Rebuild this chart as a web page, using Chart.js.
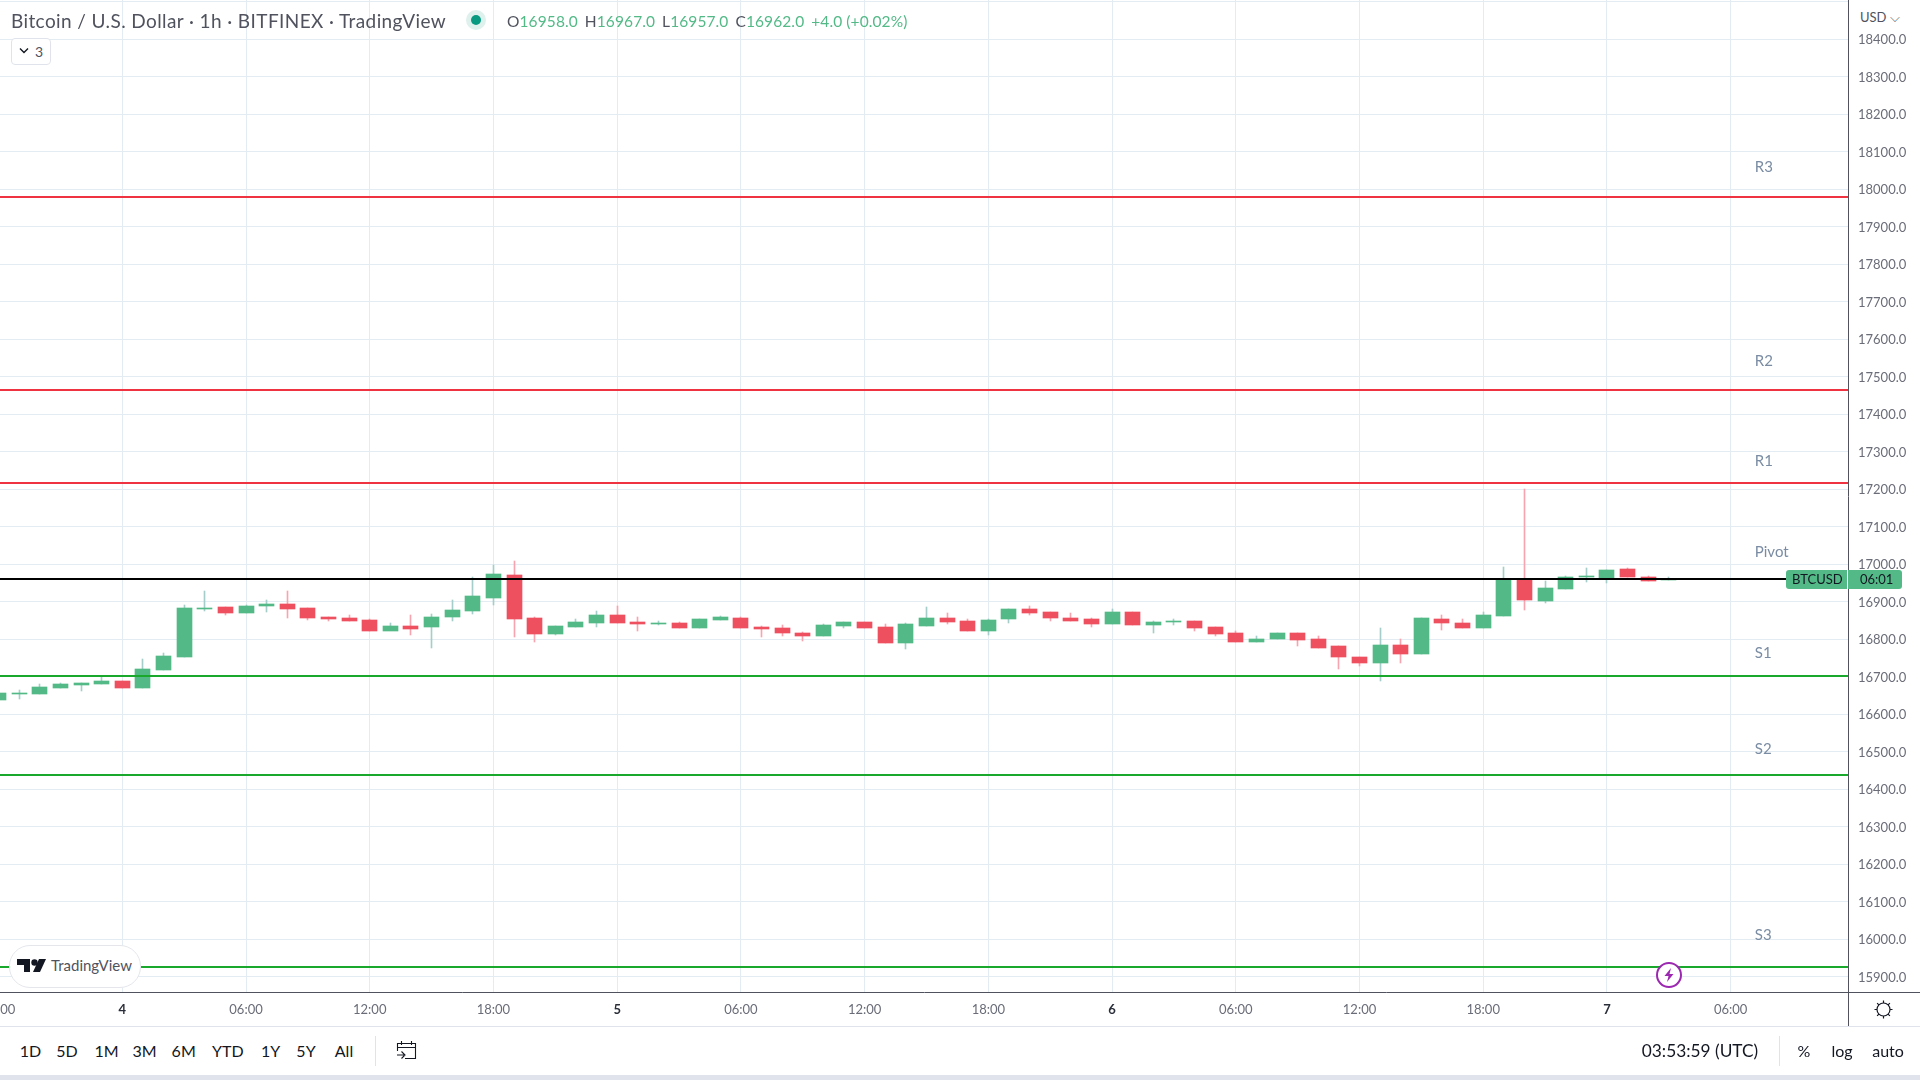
<!DOCTYPE html>
<html>
<head>
<meta charset="utf-8">
<title>Bitcoin / U.S. Dollar</title>
<script src="https://cdn.jsdelivr.net/npm/chart.js@4"></script>
<style>
html, body { margin: 0; padding: 0; width: 1920px; height: 1080px; overflow: hidden; background: #fff; font-family: Lato, "Open Sans", sans-serif; }
#chart { position: absolute; left: 0; top: 0; }
.abs { position: absolute; white-space: nowrap; }
#title { left: 11px; top: 9px; font-size: 19px; letter-spacing: 0.4px; line-height: 24px; color: #50535e; }
#ohlc { left: 507px; top: 10px; font-size: 15.5px; letter-spacing: 0.1px; line-height: 22px; color: #50535e; }
#ohlc b { font-weight: 400; color: #53b987; margin-right: 7px; }
#collapse { left: 11px; top: 38px; width: 38px; height: 25px; border: 1px solid #e0e3eb; border-radius: 4px; background: #fff; font-size: 14px; line-height: 25px; color: #50535e; text-indent: 23px; }
#usd { left: 1860px; top: 8px; font-size: 13px; line-height: 18px; color: #50535e; background: #fff; padding-right: 4px; }
#brand { left: 9px; top: 945px; width: 130px; height: 41px; border-radius: 21px; background: #fff; border: 1px solid #e4e6eb; }
#brand span { position: absolute; left: 41px; top: 9px; font-size: 15px; line-height: 20px; color: #50535e; }
.tb { top: 1039px; font-size: 16px; line-height: 24px; color: #131722; transform: translateX(-50%); }
.rule { position: absolute; background: #50535e; }
</style>
</head>
<body>
<canvas id="chart" width="1920" height="1026"></canvas>

<div class="abs" id="title">Bitcoin / U.S. Dollar · 1h · BITFINEX · TradingView</div>
<svg class="abs" style="left:466px;top:10px" width="20" height="20"><circle cx="10" cy="10" r="10" fill="#dff1ed"/><circle cx="10" cy="10" r="5" fill="#089981"/></svg>
<div class="abs" id="ohlc">O<b>16958.0</b>H<b>16967.0</b>L<b>16957.0</b>C<b>16962.0</b><b>+4.0 (+0.02%)</b></div>
<div class="abs" id="collapse">3</div>
<svg class="abs" style="left:19px;top:47px" width="10" height="8"><path d="M1 1.5 L5 5.5 L9 1.5" fill="none" stroke="#131722" stroke-width="1.4"/></svg>
<div class="abs" id="usd">USD ⌵</div>

<div class="abs" id="brand">
  <svg style="position:absolute;left:7px;top:12px" width="30" height="16" viewBox="0 0 30 16"><path d="M0 1h13v13H7V7H0z" fill="#131722"/><circle cx="17.5" cy="4.5" r="3.2" fill="#131722"/><path d="M22 1h7l-6 13h-7z" fill="#131722"/></svg>
  <span>TradingView</span>
</div>
<svg class="abs" style="left:1656px;top:962px" width="26" height="26"><circle cx="13" cy="13" r="12" fill="#fff" stroke="#9c27b0" stroke-width="2"/><path d="M15 6 L8.5 14 H12.5 L11 20 L17.5 12 H13.5 Z" fill="#9c27b0"/></svg>

<div class="rule" style="left:1848px;top:992px;width:72px;height:1px"></div>
<div class="rule" style="left:1848px;top:992px;width:1px;height:34px"></div>
<svg class="abs" style="left:1873px;top:999px" width="21" height="21" viewBox="0 0 21 21"><circle cx="10.5" cy="10.5" r="6.500" fill="none" stroke="#131722" stroke-width="1.2"/><path d="M10.5 1.5v2.5M10.5 17v2.5M1.5 10.5h2.5M17 10.5h2.5M4.1 4.1l1.8 1.8M15.1 15.1l1.8 1.8M4.1 16.9l1.8-1.8M15.1 5.9l1.8-1.8" stroke="#131722" stroke-width="1.2"/></svg>

<div style="position:absolute;left:0;top:1026px;width:1920px;height:1px;background:#e0e3eb"></div>
<div style="position:absolute;left:0;top:1075px;width:1920px;height:5px;background:#e0e3eb"></div>
<div style="position:absolute;left:375px;top:1036px;width:1px;height:30px;background:#e0e3eb"></div>
<div style="position:absolute;left:1779px;top:1036px;width:1px;height:30px;background:#e0e3eb"></div>
<div id="ranges"></div>
<svg class="abs" style="left:396px;top:1040px" width="21" height="21" viewBox="0 0 21 21"><path d="M1.5 7.5h18M5.500 1v4M15.500 1v4M1.5 11V3.500h18v15H9M1 15h7M5.500 11.500L9 15l-3.500 3.500" fill="none" stroke="#131722" stroke-width="1.1"/></svg>
<div class="abs tb" style="left:1700px;font-size:17.3px">03:53:59 (UTC)</div>
<div class="abs tb" style="left:1804px">%</div>
<div class="abs tb" style="left:1842px">log</div>
<div class="abs tb" style="left:1888px">auto</div>

<script>
// hours counted from 00:00 on the 4th
const hours = [-6,-5,-4,-3,-2,-1,0,1,2,3,4,5,6,7,8,9,10,11,12,13,14,15,16,17,18,19,20,21,22,23,24,25,26,27,28,29,30,31,32,33,34,35,36,37,38,39,40,41,42,43,44,45,46,47,48,49,50,51,52,53,54,55,56,57,58,59,60,61,62,63,64,65,66,67,68,69,70,71,72,73,74,75];
const opens = [16638,16654,16654,16670,16678,16681,16689,16670,16718,16753,16881,16886,16870,16889,16894,16884,16860,16857,16852,16822,16836,16833,16860,16876,16910,16972,16857,16814,16833,16844,16865,16846,16841,16844,16830,16852,16857,16833,16830,16817,16809,16836,16846,16833,16790,16836,16857,16849,16822,16853,16882,16872,16858,16853,16840,16872,16837,16845,16848,16834,16816,16794,16800,16818,16800,16781,16754,16738,16786,16760,16855,16844,16830,16862,16961,16902,16934,16966,16964,16988,16966,16958];
const closes = [16657,16657,16673,16681,16684,16689,16670,16721,16756,16884,16884,16870,16889,16894,16881,16857,16854,16849,16822,16836,16828,16860,16878,16916,16974,16854,16814,16836,16846,16865,16844,16841,16844,16830,16854,16860,16830,16828,16817,16809,16838,16846,16830,16790,16841,16857,16846,16822,16852,16880,16869,16856,16848,16840,16872,16837,16845,16848,16829,16813,16794,16802,16816,16797,16778,16752,16738,16784,16760,16856,16844,16830,16865,16961,16905,16937,16966,16969,16985,16966,16956,16962];
const highs = [16657,16665,16681,16684,16684,16700,16689,16748,16764,16892,16929,16886,16892,16905,16929,16884,16860,16865,16854,16844,16865,16868,16905,16966,16998,17009,16860,16836,16854,16876,16889,16860,16849,16846,16854,16862,16860,16836,16838,16820,16841,16846,16846,16841,16844,16886,16870,16854,16854,16882,16888,16872,16869,16856,16880,16874,16848,16853,16848,16834,16821,16810,16818,16818,16810,16781,16754,16829,16800,16856,16864,16853,16873,16993,17201,16956,16969,16990,16985,16990,16969,16967];
const lows = [16638,16641,16654,16670,16662,16681,16670,16670,16718,16753,16876,16865,16870,16873,16857,16852,16849,16849,16822,16836,16812,16777,16849,16868,16892,16806,16793,16812,16833,16833,16844,16822,16838,16830,16830,16852,16830,16806,16809,16796,16809,16830,16830,16790,16774,16836,16841,16822,16812,16844,16866,16850,16848,16834,16840,16837,16818,16837,16821,16808,16794,16794,16800,16781,16778,16722,16730,16688,16736,16760,16826,16830,16830,16862,16878,16897,16934,16953,16950,16966,16956,16957];

const pivotLevels = [17979.5,17464.8,17216.8,16960.8,16702.1,16438.1,15926.1];
const pivotColors = ["#ef3340","#ef3340","#ef3340","#000000","#1aa82c","#1aa82c","#1aa82c"];
const pivotNames = ["R3","R2","R1","Pivot","S1","S2","S3"];
const pivotNamePrices = [18058,17542,17275,17032,16762,16507,16011];
const pivotNameHour = 79.17;

const xTickHours = [-6,0,6,12,18,24,30,36,42,48,54,60,66,72,78];
const xTickLabels = ["18:00","4","06:00","12:00","18:00","5","06:00","12:00","18:00","6","06:00","12:00","18:00","7","06:00"];
const dayTicks = [0,24,48,72];
const xMin = -5.93, xMax = 83.69;
const yMin = 15859.5, yMax = 18504.8;

const rangeNames = ["1D","5D","1M","3M","6M","YTD","1Y","5Y","All"];
const rangeCentres = [30.5,67,106.5,144.5,183.7,227.8,270.6,306,344];

const UP = "#53b987", DOWN = "#ef5060", UP_WICK = "#a5cdc9", DOWN_WICK = "#f8a3b0";
const FONT = "Lato, 'Open Sans', sans-serif";

document.getElementById("ranges").innerHTML = rangeNames.map((n, i) =>
  `<div class="abs tb" style="left:${rangeCentres[i]}px">${n}</div>`).join("");

const isUp = closes.map((c, i) => c >= opens[i]);

function noPadding(scale){
  scale.paddingLeft = scale.paddingRight = scale.paddingTop = scale.paddingBottom = 0;
}

function isDayTick(c){
  return dayTicks.includes(c.tick?.value);
}

const snapBars = {
  id: "snapBars",
  afterDatasetsUpdate(chart){
    chart.data.datasets.forEach((ds, i) => {
      if (ds.type !== "bar") return;
      chart.getDatasetMeta(i).data.forEach((el) => {
        el.x = Math.round(el.x - 0.5) + 0.5;
        el.y = Math.round(el.y);
        el.base = Math.round(el.base);
        if (el.base === el.y) el.base = el.y + 1;
      });
    });
  },
};

const overlays = {
  id: "overlays",
  afterDraw(chart){
    const { ctx, scales: { x, y } } = chart;
    ctx.save();
    // names of the pivot levels
    ctx.font = `15px ${FONT}`;
    ctx.fillStyle = "#7a8ca3";
    ctx.textBaseline = "middle";
    ctx.textAlign = "left";
    pivotNames.forEach((n, i) => ctx.fillText(n, x.getPixelForValue(pivotNameHour), y.getPixelForValue(pivotNamePrices[i])));
    // last price tag
    const tagY = Math.round(y.getPixelForValue(closes[closes.length - 1]));
    ctx.fillStyle = UP;
    ctx.beginPath();
    ctx.roundRect(1786, tagY - 9, 116, 19, 3);
    ctx.fill();
    ctx.fillStyle = "#fff";
    ctx.fillRect(1847, tagY - 9, 1, 19);
    ctx.fillStyle = "#131722";
    ctx.font = `13px ${FONT}`;
    ctx.fillText("BTCUSD", 1792, tagY + 1);
    ctx.fillText("06:01", 1860, tagY + 1);
    ctx.restore();
  },
};

new Chart(document.getElementById("chart"), {
  data: {
    labels: hours,
    datasets: [
      ...pivotLevels.map((v, i) => ({
        type: "line",
        data: [{ x: xMin, y: v }, { x: xMax, y: v }],
        borderColor: pivotColors[i],
        borderWidth: 2,
        pointRadius: 0,
        order: 1,
      })),
      {
        type: "bar",
        data: hours.map((_, i) => [opens[i], closes[i]]),
        backgroundColor: isUp.map((u) => (u ? UP : DOWN)),
        barThickness: 15,
        order: 2,
      },
      {
        type: "bar",
        data: hours.map((_, i) => [lows[i], highs[i]]),
        backgroundColor: isUp.map((u) => (u ? UP_WICK : DOWN_WICK)),
        barThickness: 1,
        order: 3,
      },
    ],
  },
  options: {
    responsive: false,
    animation: false,
    layout: { padding: 0 },
    datasets: { bar: { grouped: false } },
    plugins: { legend: { display: false }, tooltip: { enabled: false } },
    scales: {
      x: {
        type: "linear",
        position: "bottom",
        offset: false,
        min: xMin,
        max: xMax,
        grid: { color: "#e3ecf2", drawTicks: false, offset: false },
        border: { display: true, color: "#50535e", width: 1 },
        afterBuildTicks(scale){ scale.ticks = xTickHours.map((value) => ({ value })); },
        afterFit(scale){ noPadding(scale); scale.height = 34; },
        ticks: {
          autoSkip: false,
          maxRotation: 0,
          minRotation: 0,
          padding: 10,
          callback: (v) => xTickLabels[xTickHours.indexOf(v)],
          color: (c) => (isDayTick(c) ? "#2a2e39" : "#6a6d78"),
          font: (c) => ({ family: FONT, size: 13, weight: isDayTick(c) ? "bold" : "normal" }),
        },
      },
      y: {
        type: "linear",
        position: "right",
        min: yMin,
        max: yMax,
        grid: { color: "#e3ecf2", drawTicks: false },
        border: { display: true, color: "#50535e", width: 1 },
        afterFit(scale){ noPadding(scale); scale.width = 72; },
        ticks: {
          stepSize: 100,
          includeBounds: false,
          autoSkip: false,
          padding: 10,
          labelOffset: 1,
          color: "#6a6d78",
          font: { family: FONT, size: 13 },
          callback: (v) => (v > 18450 ? "" : Number(v).toFixed(1)),
        },
      },
    },
  },
  plugins: [snapBars, overlays],
});
</script>
</body>
</html>
